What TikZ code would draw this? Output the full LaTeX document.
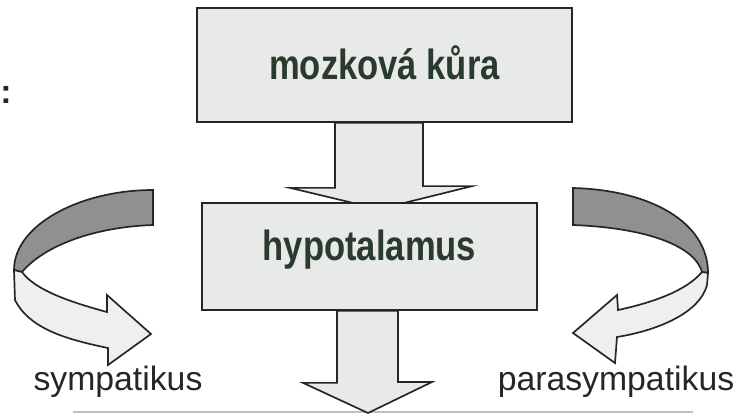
\documentclass[tikz,border=0pt]{standalone}
\usepackage{fontspec}
\setmainfont{Liberation Sans}
\usetikzlibrary{calc, backgrounds}

\definecolor{boxgray}{HTML}{E8EAEA}
\definecolor{bandgray}{HTML}{8E918E}
\definecolor{frontgray}{HTML}{EEF0F0}
\definecolor{inkgreen}{HTML}{2A3A2C}
\definecolor{ink}{HTML}{262626}

\begin{document}
\begin{tikzpicture}[x=0.025cm, y=-0.025cm]
\tikzstyle{vertex}=[rectangle, draw=ink, fill=boxgray, line width=1.2pt, inner sep=0pt, text=inkgreen, font=\fontsize{30}{36}\selectfont\bfseries]
\tikzstyle{block}=[draw=ink, fill=boxgray, line width=1.2pt]
\tikzstyle{back}=[draw=ink, fill=bandgray, line width=1.2pt]
\tikzstyle{front}=[draw=ink, fill=frontgray, line width=1.2pt]
\tikzstyle{sidetext}=[text=ink, inner sep=0pt, anchor=base, font=\fontsize{24}{28}\selectfont]
\useasboundingbox (0,0) rectangle (740,416);

\node[vertex, minimum width=9.375cm, minimum height=2.85cm, text height=20pt, text depth=0pt] (kura) at (384.5,65) {\scalebox{0.82}[1]{mozková kůra}};
\node[vertex, minimum width=8.375cm, minimum height=2.675cm, text height=14pt, text depth=9pt] (hypo) at (369.5,256.5) {\scalebox{0.82}[1]{hypotalamus}};
\node[sidetext] (symp) at (118,390) {sympatikus};
\node[sidetext] (para) at (616,390) {parasympatikus};
\node[inner sep=0pt, anchor=base west, text=ink, font=\fontsize{24}{28}\selectfont\bfseries] (colon) at (0,103) {:};
\coordinate (ven) at (368,413);

\begin{scope}[on background layer]
\draw[gray!50, line width=1pt] (73,412) -- (693,412);
\path[block] ($(kura.south)+(-49.5,0)$) -- ++(0,65) -- ++(-45,0) -- ($(hypo.north)+(9.5,7)$) -- ++(93,-23) -- ++(-49,0) -- ($(kura.south)+(38.5,0)$) -- cycle;
\path[block] ($(hypo.south)+(-32.5,0)$) -- ++(0,72) -- ++(-34,0) -- (ven) -- ++(64,-31) -- ++(-34,0) -- ($(hypo.south)+(28.5,0)$) -- cycle;
\end{scope}

% sympatikus
\path[back] (153,190) .. controls (80,190) and (14,225) .. (14,270) -- (22,272) .. controls (45,245) and (95,227) .. (153,225) -- cycle;
\path[front] (14,270) -- (15,300) .. controls (30,330) and (70,340) .. (108,348) -- (108,365) -- (151,334) -- (107,295) -- (107,312) .. controls (70,302) and (35,290) .. (22,272) -- cycle;
% parasympatikus
\path[back] (573,188) .. controls (650,190) and (708,222) .. (708,273) -- (702,272) .. controls (695,247) and (650,228) .. (573,225) -- cycle;
\path[front] (708,273) -- (707,285) .. controls (700,312) and (660,330) .. (617,337) -- (615,363) -- (573,333) -- (617,295) -- (618,310) .. controls (650,303) and (685,292) .. (702,272) -- cycle;

\end{tikzpicture}
\end{document}
